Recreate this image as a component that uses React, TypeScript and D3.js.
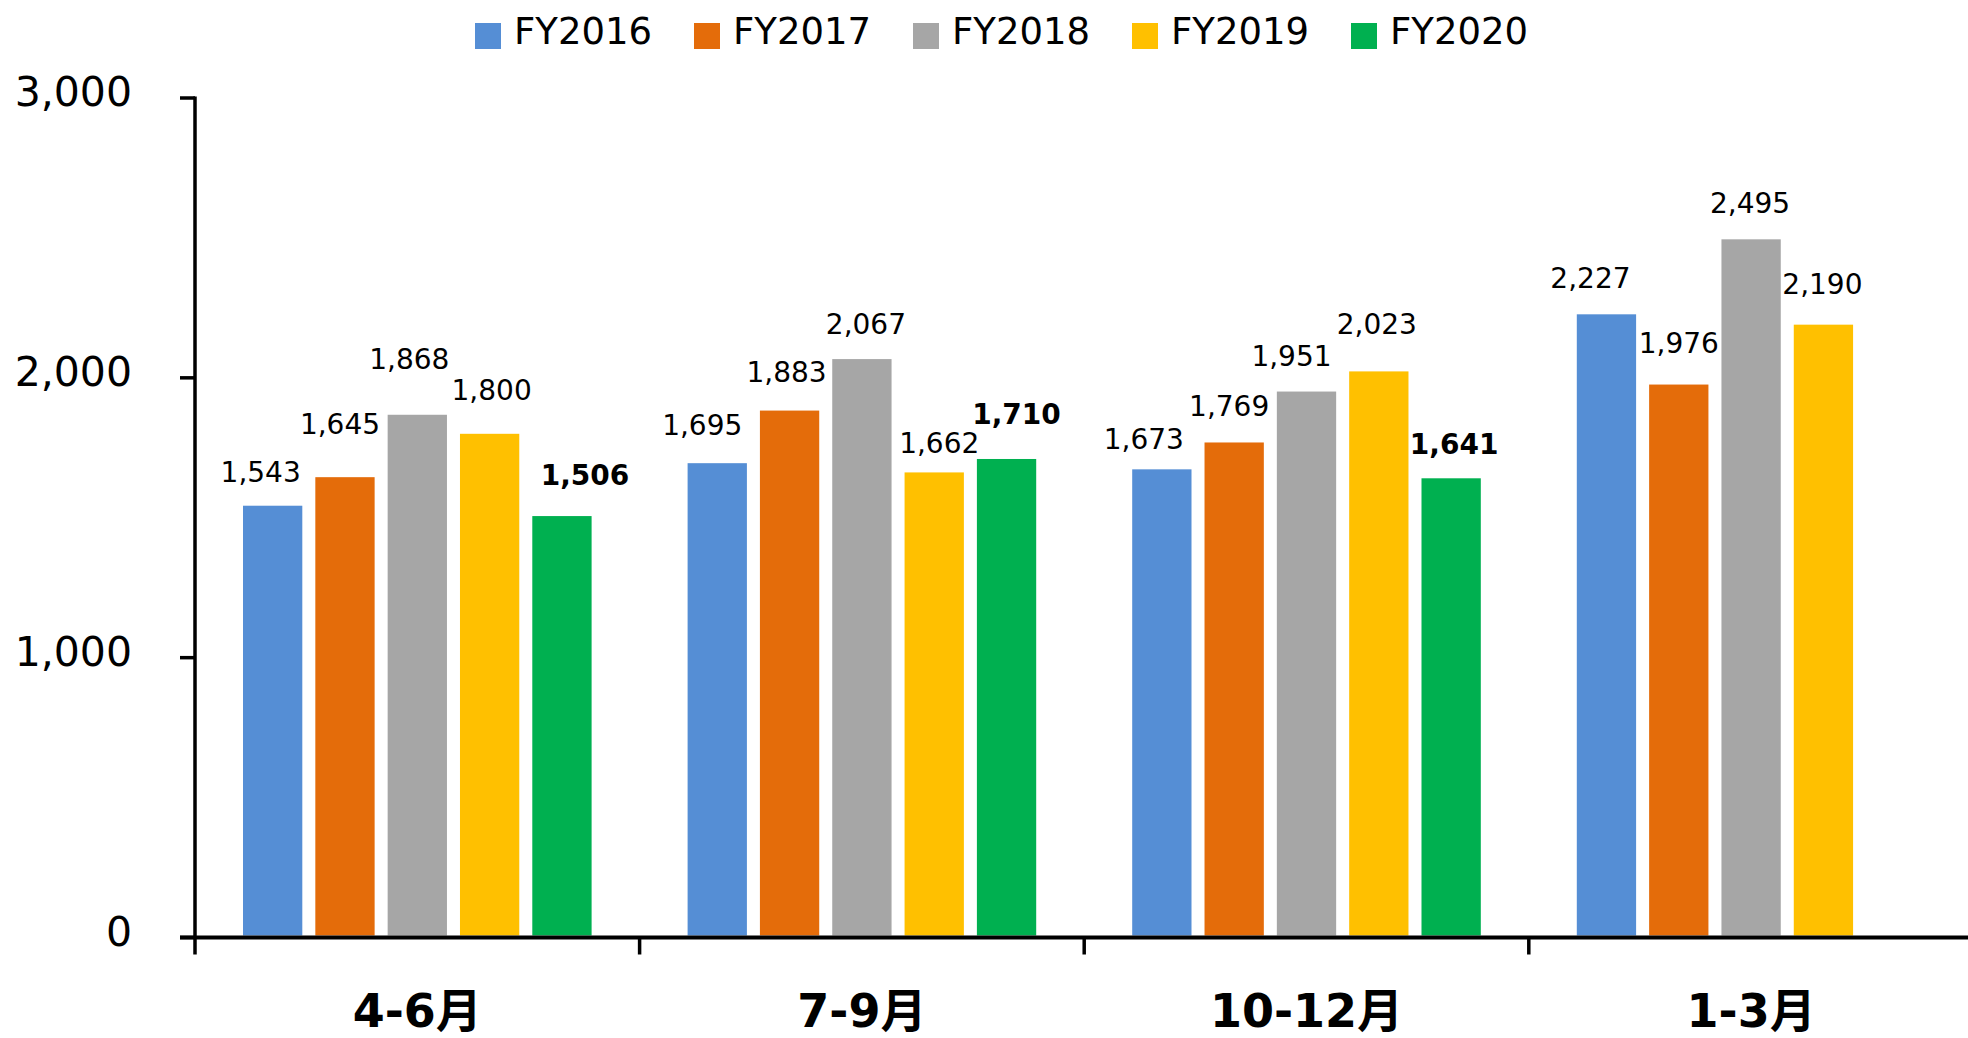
import React from 'react'
import * as d3 from 'd3'

// quarters on the x axis
const categories = ['4-6月', '7-9月', '10-12月', '1-3月']
const seriesNames = ['FY2016', 'FY2017', 'FY2018', 'FY2019', 'FY2020']

// values per quarter (FY2020 has no 1-3月 yet)
const fy2016 = [1543, 1695, 1673, 2227]
const fy2017 = [1645, 1883, 1769, 1976]
const fy2018 = [1868, 2067, 1951, 2495]
const fy2019 = [1800, 1662, 2023, 2190]
const fy2020 = [1506, 1710, 1641, null]

const yTicks = [0, 1000, 2000, 3000]
const colors = ['#558ED5', '#E46C0A', '#A6A6A6', '#FFC000', '#00B050']

// hand-moved data labels (offset from bar centre, gap above bar top)
const labelDx = [
  [-12, -15, -18, -16],
  [-5, -3, -5, 0],
  [-8, 4, -15, -1],
  [2, 5, -2, -1],
  [23, 10, 3, 0],
]
const labelGap = [
  [24, 28, 20, 26],
  [43, 29, 26, 32],
  [46, 25, 26, 26],
  [34, 19, 37, 31],
  [31, 35, 24, 0],
]

const seriesValues = [fy2016, fy2017, fy2018, fy2019, fy2020]

const W = 1968
const H = 1038
const axisX = 195
const baseY = 937.5
const topY = 98
const catStep = 444.6

const font = '"DejaVu Sans", Verdana, sans-serif'
const fmt = d3.format(',')

export default function App() {
  const x0 = d3.scaleBand<string>()
    .domain(categories)
    .range([axisX, axisX + catStep * categories.length])
    .padding(0)

  const x1 = d3.scaleBand<string>()
    .domain(seriesNames)
    .range([48, catStep - 48])
    .paddingInner(0.18)
    .paddingOuter(0)

  const y = d3.scaleLinear().domain([0, 3000]).range([baseY, topY])

  return (
    <svg width={W} height={H} style={{ position: 'absolute', left: 0, top: 0, background: '#fff' }}>
      {/* legend */}
      {seriesNames.map((s, i) => (
        <g key={s} transform={`translate(${475 + i * 219},0)`}>
          <rect x={0} y={23} width={26} height={26} fill={colors[i]} />
          <text x={39} y={44} fontFamily={font} fontSize={37} fill="#000">{s}</text>
        </g>
      ))}

      {/* bars */}
      {seriesNames.map((s, si) => (
        <g key={s}>
          {categories.map((c, ci) => {
            const v = seriesValues[si][ci]
            if (v == null) return null
            const bx = (x0(c) ?? 0) + (x1(s) ?? 0)
            return (
              <rect key={c} x={bx} y={y(v)} width={x1.bandwidth()} height={baseY - 2 - y(v)} fill={colors[si]} />
            )
          })}
        </g>
      ))}

      {/* data labels */}
      {seriesNames.map((s, si) => (
        <g key={s + '-lbl'}>
          {categories.map((c, ci) => {
            const v = seriesValues[si][ci]
            if (v == null) return null
            const cx = (x0(c) ?? 0) + (x1(s) ?? 0) + x1.bandwidth() / 2 + labelDx[si][ci]
            return (
              <text key={c} x={cx} y={y(v) - labelGap[si][ci]} textAnchor="middle"
                fontFamily={font} fontSize={28} fontWeight={s === 'FY2020' ? 'bold' : 'normal'} fill="#000">
                {fmt(v)}
              </text>
            )
          })}
        </g>
      ))}

      {/* y axis */}
      <line x1={axisX} x2={axisX} y1={topY - 1.5} y2={baseY} stroke="#000" strokeWidth={3.5} />
      {yTicks.map(t => (
        <g key={t}>
          <line x1={axisX - 15} x2={axisX} y1={y(t)} y2={y(t)} stroke="#000" strokeWidth={3.5} />
          <text x={132} y={y(t) + 8} textAnchor="end" fontFamily={font} fontSize={41} fill="#000">{fmt(t)}</text>
        </g>
      ))}

      {/* x axis */}
      <line x1={axisX - 15} x2={W} y1={baseY} y2={baseY} stroke="#000" strokeWidth={4} />
      {categories.map(c => (
        <g key={c}>
          <line x1={x0(c)} x2={x0(c)} y1={baseY} y2={baseY + 17} stroke="#000" strokeWidth={3.5} />
          <text x={(x0(c) ?? 0) + x0.bandwidth() / 2} y={1027} textAnchor="middle"
            fontFamily={'"DejaVu Sans", "Noto Sans CJK JP", sans-serif'} fontWeight="bold" fontSize={46} fill="#000">
            {c}
          </text>
        </g>
      ))}
    </svg>
  )
}
